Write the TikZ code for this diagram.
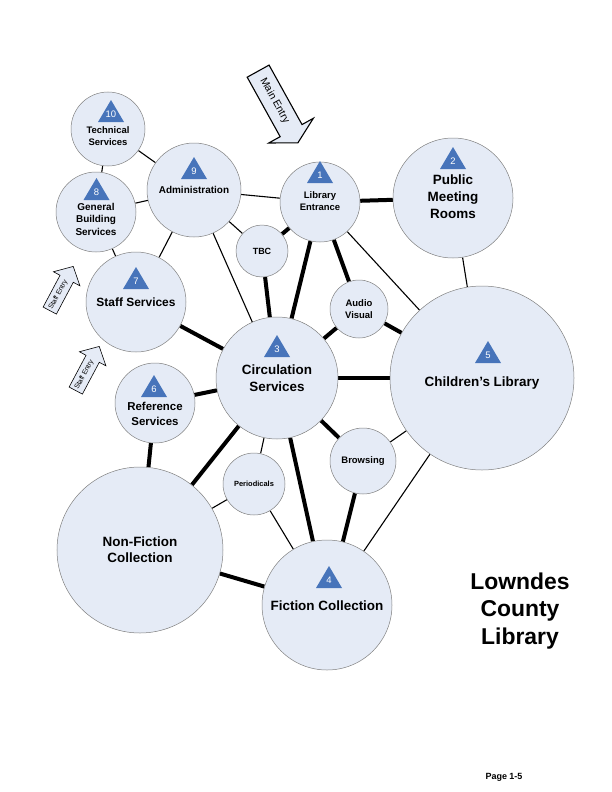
\documentclass[tikz,border=0pt]{standalone}
\usepackage{fontspec}
\setmainfont{Liberation Sans}
\usetikzlibrary{backgrounds}

\definecolor{roomfill}{RGB}{229,235,246}
\definecolor{triblue}{RGB}{71,116,186}

\tikzset{
 room/.style={circle,draw=gray,line width=0.5bp,fill=roomfill,inner sep=0pt,minimum size=#1},
 lbl/.style 2 args={font=\bfseries\fontsize{#1}{#2}\selectfont,align=center,inner sep=0pt},
 numtxt/.style={text=white,font=\fontsize{9.5}{9.5}\selectfont,inner sep=0pt},
 thinlink/.style={line width=1.1bp},
 thicklink/.style={line width=4bp},
 entrybox/.style={draw=black,line width=#1,fill=roomfill},
}

% triangle with room number: name, base centre, number
\newcommand{\roomno}[3]{%
 \coordinate (#1) at (#2);
 \fill[triblue] ([xshift=-13bp]#1) -- ([xshift=13bp]#1) -- ([yshift=22bp]#1) -- cycle;
 \node[numtxt] (#1-n) at ([yshift=7.5bp]#1) {#3};
}

\begin{document}
\begin{tikzpicture}[x=1bp,y=-1bp]
 \useasboundingbox (0,0) rectangle (612,792);

 % rooms
 \node[room=74bp] (tech) at (108,129) {};
 \node[room=80bp] (genbld) at (96,212) {};
 \node[room=94bp] (admin) at (194,190) {};
 \node[room=80bp] (entr) at (320,202) {};
 \node[room=120bp] (meet) at (453,198) {};
 \node[room=52bp] (tbc) at (262,251) {};
 \node[room=58bp] (av) at (359,309) {};
 \node[room=100bp] (staff) at (136,302) {};
 \node[room=122bp] (circ) at (277,378) {};
 \node[room=184bp] (child) at (482,378) {};
 \node[room=80bp] (ref) at (155,403) {};
 \node[room=62bp] (peri) at (254,484) {};
 \node[room=66bp] (brow) at (363,461) {};
 \node[room=166bp] (nonfic) at (140,550) {};
 \node[room=130bp] (fic) at (327,605) {};

 % labels
 \node[lbl={9.5}{11.5}] (tech-t) at (108,136) {Technical\\Services};
 \node[lbl={10}{12.5}] (genbld-t) at (96,219) {General\\Building\\Services};
 \node[lbl={10}{12}] (admin-t) at (194,190) {Administration};
 \node[lbl={9.5}{12}] (entr-t) at (320,201) {Library\\Entrance};
 \node[lbl={13.5}{17}] (meet-t) at (453,197) {Public\\Meeting\\Rooms};
 \node[lbl={9}{11}] (tbc-t) at (262,251) {TBC};
 \node[lbl={9.5}{12}] (av-t) at (359,309) {Audio\\Visual};
 \node[lbl={12}{14}] (staff-t) at (136,302) {Staff Services};
 \node[lbl={13.5}{17}] (circ-t) at (277,378) {Circulation\\Services};
 \node[lbl={13.5}{17}] (child-t) at (482,383) {Children’s Library};
 \node[lbl={11.5}{15}] (ref-t) at (155,414) {Reference\\Services};
 \node[lbl={7.5}{9}] (peri-t) at (254,484) {Periodicals};
 \node[lbl={9.5}{12}] (brow-t) at (363,461) {Browsing};
 \node[lbl={13.5}{16}] (nonfic-t) at (140,550) {Non-Fiction\\Collection};
 \node[lbl={13.5}{17}] (fic-t) at (327,606) {Fiction Collection};

 % room numbers
 \roomno{n1}{320,183}{1}
 \roomno{n2}{453,169}{2}
 \roomno{n3}{277,357}{3}
 \roomno{n4}{329,588}{4}
 \roomno{n5}{488,363}{5}
 \roomno{n6}{154,397}{6}
 \roomno{n7}{136,289}{7}
 \roomno{n8}{96.5,200}{8}
 \roomno{n9}{194,179}{9}
 \roomno{n10}{111,122}{10}

 % links
 \begin{scope}[on background layer]
  \draw[thinlink] (tech) -- (admin);
  \draw[thinlink] (tech) -- (genbld);
  \draw[thinlink] (genbld) -- (admin);
  \draw[thinlink] (genbld) -- (staff);
  \draw[thinlink] (admin) -- (entr);
  \draw[thinlink] (admin) -- (tbc);
  \draw[thinlink] (admin) -- (staff);
  \draw[thinlink] (admin) -- (circ);
  \draw[thinlink] (circ) -- (peri);
  \draw[thinlink] (peri) -- (nonfic);
  \draw[thinlink] (peri) -- (fic);
  \draw[thinlink] (brow) -- (child);
  \draw[thinlink] (child) -- (fic);
  \draw[thinlink] (entr) -- (child);
  \draw[thinlink] (meet) -- (child);
  \draw[thicklink] (staff) -- (circ);
  \draw[thicklink] (ref) -- (circ);
  \draw[thicklink] (ref) -- (nonfic);
  \draw[thicklink] (circ) -- (nonfic);
  \draw[thicklink] (circ) -- (fic);
  \draw[thicklink] (circ) -- (brow);
  \draw[thicklink] (brow) -- (fic);
  \draw[thicklink] (circ) -- (child);
  \draw[thicklink] (av) -- (circ);
  \draw[thicklink] (av) -- (child);
  \draw[thicklink] (av) -- (entr);
  \draw[thicklink] (entr) -- (circ);
  \draw[thicklink] (tbc) -- (circ);
  \draw[thicklink] (tbc) -- (entr);
  \draw[thicklink] (entr) -- (meet);
  \draw[thicklink] (nonfic) -- (fic);
 \end{scope}

 % entries
 \begin{scope}[shift={(278,107)},rotate=-61]
  \draw[entrybox=1.1bp] (-41,-12.5) -- (27,-12.5) -- (27,-25.5) -- (41,0) -- (27,25.5) -- (27,12.5) -- (-41,12.5) -- cycle;
  \node[font=\fontsize{10.5}{10.5}\selectfont,rotate=-61,inner sep=0pt] (main-t) at (-7,0) {Main Entry};
 \end{scope}
 \begin{scope}[shift={(61.5,288.5)},rotate=62]
  \draw[entrybox=0.6bp] (-25,-7.5) -- (11,-7.5) -- (11,-15) -- (25,0) -- (11,15) -- (11,7.5) -- (-25,7.5) -- cycle;
  \node[font=\fontsize{7}{7}\selectfont,rotate=62,inner sep=0pt] (staff1-t) at (-7,0) {Staff Entry};
 \end{scope}
 \begin{scope}[shift={(87.5,368.5)},rotate=62]
  \draw[entrybox=0.6bp] (-25,-7.5) -- (11,-7.5) -- (11,-15) -- (25,0) -- (11,15) -- (11,7.5) -- (-25,7.5) -- cycle;
  \node[font=\fontsize{7}{7}\selectfont,rotate=62,inner sep=0pt] (staff2-t) at (-7,0) {Staff Entry};
 \end{scope}

 % title
 \node[lbl={23}{28}] (title) at (520,611) {Lowndes\\County\\Library};
 \node[lbl={9}{9}] (page) at (504,777) {Page 1-5};
\end{tikzpicture}
\end{document}
